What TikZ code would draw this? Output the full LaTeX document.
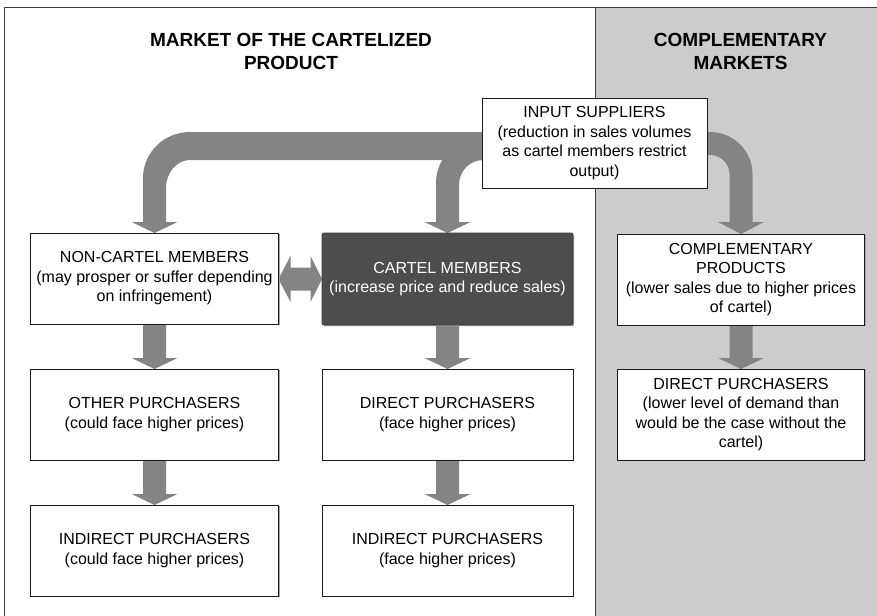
\documentclass[tikz,border=0pt]{standalone}
\usepackage{fontspec}
\setmainfont{Liberation Sans}
\usetikzlibrary{calc,shadows}
\definecolor{arrowgray}{HTML}{848484}
\definecolor{panelgray}{HTML}{CCCCCC}
\definecolor{cartelfill}{HTML}{4D4D4D}
\definecolor{frameline}{HTML}{3A3A3A}
\pgfdeclarelayer{panels}
\pgfdeclarelayer{arrowlayer}
\pgfsetlayers{panels,arrowlayer,main}
\newcommand\vblockarrow[2]{%
  \fill[arrowgray] ($(#1)+(-11.5,0)$) -- ($(#2)+(-11.5,-11)$) -- ($(#2)+(-23,-11)$) -- (#2)
    -- ($(#2)+(23,-11)$) -- ($(#2)+(11.5,-11)$) -- ($(#1)+(11.5,0)$) -- cycle;}
\begin{document}
\begin{tikzpicture}[x=1pt,y=-1pt,
  box/.style={draw=black!90, line width=0.8pt, fill=white, minimum height=91pt,
    inner sep=2pt, outer sep=0pt, align=center, font=\fontsize{16}{19.5}\selectfont,
    general shadow={fill=black!35, shadow xshift=1.2pt, shadow yshift=-1.2pt}},
  wbox/.style={box, minimum width=248pt},
  mbox/.style={box, minimum width=251pt},
  rbox/.style={box, minimum width=247pt},
  cartelbox/.style={box, minimum width=251pt, minimum height=92pt, fill=cartelfill,
    draw=cartelfill!80!black, rounded corners=2pt, text=white},
  title/.style={align=center, font=\fontsize{19}{23}\bfseries\selectfont, inner sep=0pt}
]
\useasboundingbox (0,0) rectangle (877,615);
\begin{pgfonlayer}{panels}
  \draw[frameline, line width=1pt, fill=white] (4.5,7.5) rectangle (595,625);
  \draw[frameline, line width=1pt, fill=panelgray] (595,7.5) rectangle (885,625);
\end{pgfonlayer}

\node[title] (t1) at (291,51.7) {MARKET OF THE CARTELIZED\\PRODUCT};
\node[title] (t2) at (740.5,51.7) {COMPLEMENTARY\\MARKETS};

\node[wbox] (nc) at (154.5,278.5) {NON-CARTEL MEMBERS\\(may prosper or suffer depending\\on infringement)};
\node[cartelbox] (cm) at (447.5,279) {CARTEL MEMBERS\\(increase price and reduce sales)};
\node[wbox] (op) at (154.5,414.5) {OTHER PURCHASERS\\(could face higher prices)};
\node[mbox] (dp) at (447.5,414.5) {DIRECT PURCHASERS\\(face higher prices)};
\node[wbox] (ip1) at (154.5,550.5) {INDIRECT PURCHASERS\\(could face higher prices)};
\node[mbox] (ip2) at (447.5,550.5) {INDIRECT PURCHASERS\\(face higher prices)};
\node[box, minimum width=225pt, minimum height=90pt] (is) at (594.5,143) {INPUT SUPPLIERS\\(reduction in sales volumes\\as cartel members restrict\\output)};
\node[rbox] (cp) at (741,279.5) {COMPLEMENTARY\\PRODUCTS\\(lower sales due to higher prices\\of cartel)};
\node[rbox] (dpr) at (741,414.5) {DIRECT PURCHASERS\\(lower level of demand than\\would be the case without the\\cartel)};

\begin{pgfonlayer}{arrowlayer}
  % big curved arrow: input suppliers -> non-cartel members
  \fill[arrowgray] (is.west |- 0,132) -- (190,132)
    arc[start angle=270, end angle=180, x radius=47, y radius=46]
    -- (143,222) -- (131.5,222) -- (nc.north) -- (177.5,222) -- (166,222) -- (166,188)
    arc[start angle=180, end angle=270, x radius=24, y radius=28]
    -- (is.west |- 0,160) -- cycle;
  % curved arrow: input suppliers -> cartel members
  \fill[arrowgray] (483,137)
    arc[start angle=270, end angle=180, x radius=47, y radius=46]
    -- (436,222) -- (424.5,222) -- (cm.north) -- (470.5,222) -- (459,222) -- (459,185)
    arc[start angle=180, end angle=270, x radius=24, y radius=25]
    -- (483,137) -- cycle;
  % curved arrow: input suppliers -> complementary products
  \fill[arrowgray] (is.east |- 0,132) -- (710,132)
    arc[start angle=270, end angle=360, x radius=42.5, y radius=42]
    -- (752.5,222) -- (764,222) -- (cp.north) -- (718,222) -- (729.5,222) -- (729.5,174)
    arc[start angle=360, end angle=270, x radius=19.5, y radius=19]
    -- (is.east |- 0,155) -- cycle;
  % double arrow between non-cartel and cartel members
  \coordinate (dl) at (nc.east |- cm.west);
  \fill[arrowgray] (dl) -- ($(dl)+(12,-23)$) -- ($(dl)+(12,-11.5)$) -- ($(cm.west)+(-11.5,-11.5)$)
    -- ($(cm.west)+(-11.5,-23)$) -- (cm.west) -- ($(cm.west)+(-11.5,23)$) -- ($(cm.west)+(-11.5,11.5)$)
    -- ($(dl)+(12,11.5)$) -- ($(dl)+(12,23)$) -- cycle;
  % straight block arrows
  \vblockarrow{nc.south}{op.north}
  \vblockarrow{op.south}{ip1.north}
  \vblockarrow{cm.south}{dp.north}
  \vblockarrow{dp.south}{ip2.north}
  \vblockarrow{cp.south}{dpr.north}
\end{pgfonlayer}
\end{tikzpicture}
\end{document}
